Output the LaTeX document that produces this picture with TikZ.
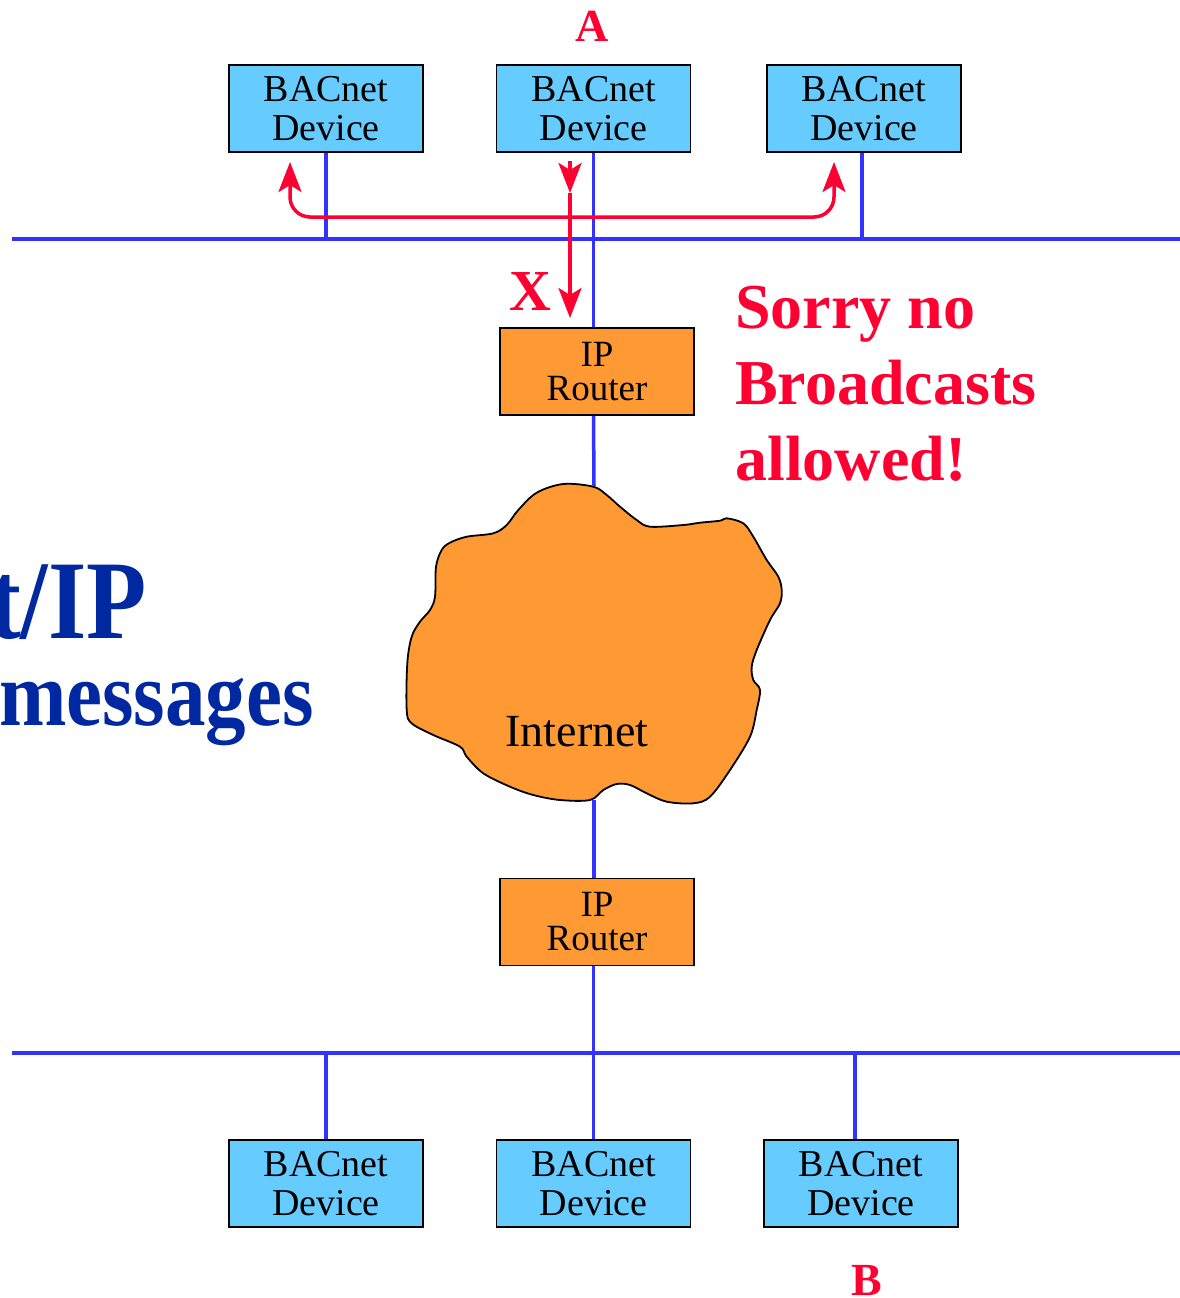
\documentclass[tikz,border=0pt]{standalone}
\usepackage{fontspec}
\setmainfont{Liberation Serif}
\newfontfamily\narrowserif{Liberation Serif}[FakeStretch=0.88]
\usetikzlibrary{arrows.meta}
\definecolor{devblue}{HTML}{66CCFF}
\definecolor{routerorange}{HTML}{FF9933}
\definecolor{netblue}{HTML}{3333FF}
\definecolor{alertred}{HTML}{FF0033}
\definecolor{titleblue}{HTML}{0028A0}
\tikzset{
  device/.style={draw=black, line width=1.8pt, fill=devblue, minimum width=194pt,
    minimum height=87pt, inner sep=0pt, align=center,
    font=\fontsize{38}{39}\selectfont},
  router/.style={draw=black, line width=1.8pt, fill=routerorange, minimum width=194pt,
    minimum height=87pt, inner sep=0pt, align=center,
    font=\fontsize{37}{34}\selectfont},
  wire/.style={draw=netblue, line width=3.5pt},
  bcast/.style={draw=alertred, line width=3.5pt,
    -{Stealth[length=30pt,width=23pt,inset=7pt]}},
  redlabel/.style={text=alertred, inner sep=0pt},
  title/.style={text=titleblue, inner sep=0pt, anchor=base east},
}
\begin{document}
\begin{tikzpicture}[x=1pt, y=-1pt]
  \useasboundingbox (0,0) rectangle (1180,1298);
  \clip (0,0) rectangle (1180,1298);

  % upper segment
  \node[device] (d1) at (326,108.5) {BACnet\\Device};
  \node[device] (d2) at (593.5,108.5) {BACnet\\Device};
  \node[device] (d3) at (864,108.5) {BACnet\\Device};
  \coordinate (busAL) at (12,239);
  \coordinate (busAR) at (1180,239);
  \node[router] (r1) at (597,371.5) {IP\\Router};

  % cloud
  \draw[line width=1.8pt, fill=routerorange]
    plot[smooth cycle, tension=0.55] coordinates {
      (593.3,486.7) (563.3,484) (536.7,492.7) (518.3,510) (506.7,525)
      (493.3,533.3) (466.7,536.7) (450,542.7) (441.7,550) (436,566.7)
      (435,596.7) (430,610) (420,621.7) (411.7,636.7) (407.3,663.3)
      (406.7,710) (411.7,723.3) (433.3,735) (460,746.7) (466.7,756.7)
      (483.3,773.3) (510,786.7) (533.3,795) (560,800) (590,800)
      (603.3,790) (616.7,784) (630,785) (646.7,793.3) (666.7,801.7)
      (693.3,803.3) (710,796.7) (730,770) (750,736.7) (756.7,710)
      (760,690) (753.3,680) (751.7,666.7) (756.7,650) (770,620)
      (780,603.3) (781.7,590) (778.3,576.7) (766.7,560) (753.3,536.7)
      (743.3,523.3) (726.7,518.3) (720,520.7) (700,522.7) (683.3,525)
      (650,526.7) (636.7,520) (620,506.7) (606.7,495)};
  \node[inner sep=0pt, anchor=base, font=\fontsize{46}{46}\selectfont]
    (inet) at (577,746) {Internet};
  \coordinate (cloudtop) at (594,486);
  \coordinate (cloudbot) at (594,800);

  % lower segment
  \node[router] (r2) at (597,922) {IP\\Router};
  \coordinate (busBL) at (12,1053);
  \coordinate (busBR) at (1180,1053);
  \node[device] (d4) at (326,1183.5) {BACnet\\Device};
  \node[device] (d5) at (593.5,1183.5) {BACnet\\Device};
  \node[device] (d6) at (861,1183.5) {BACnet\\Device};

  % network wiring
  \draw[wire] (busAL) -- (busAR);
  \draw[wire] (busBL) -- (busBR);
  \draw[wire] (d1.south) -- (d1.south |- busAL);
  \draw[wire] (d3.south -| 862,0) -- (862,239);
  \draw[wire] (d2.south) -- (d2.south |- r1.north);
  \draw[wire] (r1.south -| d2.south) -- (cloudtop);
  \draw[wire] (cloudbot) -- (r2.north -| cloudbot);
  \draw[wire] (r2.south -| d5.north) -- (d5.north);
  \draw[wire] (d4.north) -- (d4.north |- busBL);
  \draw[wire] (855,1053) -- (d6.north -| 855,0);

  % broadcast that stays on the local segment
  \coordinate (bl) at (290,162);
  \coordinate (br) at (834,162);
  \draw[bcast, {Stealth[length=30pt,width=23pt,inset=7pt]}-{Stealth[length=30pt,width=23pt,inset=7pt]},
        rounded corners=20pt] (bl) -- (290,217) -- (834,217) -- (br);
  \coordinate (bs) at (570,161);
  \coordinate (bm) at (570,193);
  \coordinate (be) at (570,318);
  \draw[bcast] (bs) -- (bm);
  \draw[bcast] (bm) -- (be);

  % labels
  \node[redlabel, anchor=base, font=\bfseries\fontsize{46}{46}\selectfont] (la) at (592,42) {A};
  \node[redlabel, anchor=base, font=\bfseries\fontsize{46}{46}\selectfont] (lb) at (867,1295) {B};
  \node[redlabel, anchor=base, font=\bfseries\fontsize{58}{58}\selectfont] (lx) at (530,310) {X};
  \node[redlabel, anchor=north west, align=left, font=\bfseries\fontsize{64}{76}\selectfont]
    (sorry) at (735,286) {Sorry no\\Broadcasts\\allowed!};

  % title fragment at the left edge
  \node[title, font=\narrowserif\bfseries\fontsize{112}{112}\selectfont]
    (t1) at (147,638) {t/IP};
  \node[title, font=\narrowserif\bfseries\fontsize{92}{92}\selectfont]
    (t2) at (314,725) {messages};
\end{tikzpicture}
\end{document}
